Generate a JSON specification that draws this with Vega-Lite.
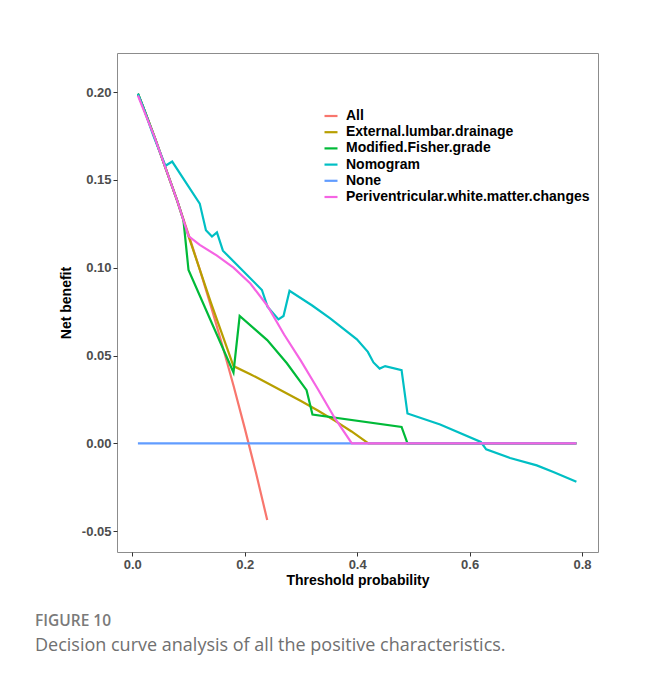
{
  "$schema": "https://vega.github.io/schema/vega-lite/v6.json",
  "width": 481,
  "height": 499,
  "autosize": "none",
  "padding": {"left": 117, "top": 53, "right": 50, "bottom": 125},
  "background": "white",
  "config": {
    "view": {"stroke": "#8c8c8c", "strokeWidth": 1},
    "font": "Liberation Sans"
  },
  "title": {
    "text": "FIGURE 10",
    "subtitle": "Decision curve analysis of all the positive characteristics.",
    "orient": "bottom",
    "anchor": "start",
    "frame": "group",
    "dx": -82,
    "offset": 27,
    "font": "Open Sans",
    "fontSize": 15.5,
    "fontWeight": 600,
    "color": "#7a7a7a",
    "subtitleFont": "Open Sans",
    "subtitleFontSize": 18,
    "subtitleFontWeight": "normal",
    "subtitleColor": "#707070",
    "subtitlePadding": 7
  },
  "data": {
    "values": [
      {"s": "All", "t": 0.01, "nb": 0.199},
      {"s": "All", "t": 0.02, "nb": 0.191},
      {"s": "All", "t": 0.04, "nb": 0.174},
      {"s": "All", "t": 0.06, "nb": 0.156},
      {"s": "All", "t": 0.08, "nb": 0.138},
      {"s": "All", "t": 0.10, "nb": 0.119},
      {"s": "All", "t": 0.12, "nb": 0.099},
      {"s": "All", "t": 0.14, "nb": 0.078},
      {"s": "All", "t": 0.16, "nb": 0.056},
      {"s": "All", "t": 0.18, "nb": 0.033},
      {"s": "All", "t": 0.20, "nb": 0.0087},
      {"s": "All", "t": 0.22, "nb": -0.0167},
      {"s": "All", "t": 0.24, "nb": -0.0436},

      {"s": "External.lumbar.drainage", "t": 0.01, "nb": 0.199},
      {"s": "External.lumbar.drainage", "t": 0.02, "nb": 0.191},
      {"s": "External.lumbar.drainage", "t": 0.04, "nb": 0.174},
      {"s": "External.lumbar.drainage", "t": 0.06, "nb": 0.156},
      {"s": "External.lumbar.drainage", "t": 0.08, "nb": 0.138},
      {"s": "External.lumbar.drainage", "t": 0.10, "nb": 0.118},
      {"s": "External.lumbar.drainage", "t": 0.14, "nb": 0.080},
      {"s": "External.lumbar.drainage", "t": 0.18, "nb": 0.044},
      {"s": "External.lumbar.drainage", "t": 0.21, "nb": 0.0394},
      {"s": "External.lumbar.drainage", "t": 0.24, "nb": 0.0344},
      {"s": "External.lumbar.drainage", "t": 0.27, "nb": 0.0293},
      {"s": "External.lumbar.drainage", "t": 0.30, "nb": 0.0241},
      {"s": "External.lumbar.drainage", "t": 0.33, "nb": 0.0187},
      {"s": "External.lumbar.drainage", "t": 0.36, "nb": 0.0130},
      {"s": "External.lumbar.drainage", "t": 0.39, "nb": 0.0068},
      {"s": "External.lumbar.drainage", "t": 0.42, "nb": 0.0},
      {"s": "External.lumbar.drainage", "t": 0.79, "nb": 0.0},

      {"s": "Modified.Fisher.grade", "t": 0.01, "nb": 0.199},
      {"s": "Modified.Fisher.grade", "t": 0.02, "nb": 0.191},
      {"s": "Modified.Fisher.grade", "t": 0.04, "nb": 0.174},
      {"s": "Modified.Fisher.grade", "t": 0.06, "nb": 0.156},
      {"s": "Modified.Fisher.grade", "t": 0.08, "nb": 0.138},
      {"s": "Modified.Fisher.grade", "t": 0.091, "nb": 0.127},
      {"s": "Modified.Fisher.grade", "t": 0.10, "nb": 0.0987},
      {"s": "Modified.Fisher.grade", "t": 0.18, "nb": 0.0404},
      {"s": "Modified.Fisher.grade", "t": 0.191, "nb": 0.0725},
      {"s": "Modified.Fisher.grade", "t": 0.24, "nb": 0.0588},
      {"s": "Modified.Fisher.grade", "t": 0.275, "nb": 0.0456},
      {"s": "Modified.Fisher.grade", "t": 0.31, "nb": 0.0303},
      {"s": "Modified.Fisher.grade", "t": 0.3205, "nb": 0.0164},
      {"s": "Modified.Fisher.grade", "t": 0.479, "nb": 0.0094},
      {"s": "Modified.Fisher.grade", "t": 0.4895, "nb": 0.0},
      {"s": "Modified.Fisher.grade", "t": 0.79, "nb": 0.0},

      {"s": "Nomogram", "t": 0.01, "nb": 0.199},
      {"s": "Nomogram", "t": 0.02, "nb": 0.191},
      {"s": "Nomogram", "t": 0.038, "nb": 0.1747},
      {"s": "Nomogram", "t": 0.059, "nb": 0.158},
      {"s": "Nomogram", "t": 0.071, "nb": 0.1604},
      {"s": "Nomogram", "t": 0.12, "nb": 0.1365},
      {"s": "Nomogram", "t": 0.131, "nb": 0.1213},
      {"s": "Nomogram", "t": 0.1417, "nb": 0.1177},
      {"s": "Nomogram", "t": 0.1506, "nb": 0.1201},
      {"s": "Nomogram", "t": 0.1612, "nb": 0.1097},
      {"s": "Nomogram", "t": 0.2306, "nb": 0.0873},
      {"s": "Nomogram", "t": 0.2405, "nb": 0.0778},
      {"s": "Nomogram", "t": 0.260, "nb": 0.0706},
      {"s": "Nomogram", "t": 0.269, "nb": 0.0725},
      {"s": "Nomogram", "t": 0.2797, "nb": 0.0869},
      {"s": "Nomogram", "t": 0.32, "nb": 0.0785},
      {"s": "Nomogram", "t": 0.352, "nb": 0.0712},
      {"s": "Nomogram", "t": 0.3995, "nb": 0.0592},
      {"s": "Nomogram", "t": 0.419, "nb": 0.0521},
      {"s": "Nomogram", "t": 0.429, "nb": 0.0461},
      {"s": "Nomogram", "t": 0.440, "nb": 0.0426},
      {"s": "Nomogram", "t": 0.4498, "nb": 0.044},
      {"s": "Nomogram", "t": 0.479, "nb": 0.0417},
      {"s": "Nomogram", "t": 0.4895, "nb": 0.017},
      {"s": "Nomogram", "t": 0.5476, "nb": 0.0108},
      {"s": "Nomogram", "t": 0.62, "nb": 0.0008},
      {"s": "Nomogram", "t": 0.6295, "nb": -0.0034},
      {"s": "Nomogram", "t": 0.672, "nb": -0.0083},
      {"s": "Nomogram", "t": 0.7195, "nb": -0.0125},
      {"s": "Nomogram", "t": 0.749, "nb": -0.0163},
      {"s": "Nomogram", "t": 0.79, "nb": -0.0218},

      {"s": "None", "t": 0.01, "nb": 0.0},
      {"s": "None", "t": 0.79, "nb": 0.0},

      {"s": "Periventricular.white.matter.changes", "t": 0.01, "nb": 0.198},
      {"s": "Periventricular.white.matter.changes", "t": 0.02, "nb": 0.190},
      {"s": "Periventricular.white.matter.changes", "t": 0.04, "nb": 0.174},
      {"s": "Periventricular.white.matter.changes", "t": 0.06, "nb": 0.156},
      {"s": "Periventricular.white.matter.changes", "t": 0.08, "nb": 0.138},
      {"s": "Periventricular.white.matter.changes", "t": 0.10, "nb": 0.118},
      {"s": "Periventricular.white.matter.changes", "t": 0.12, "nb": 0.113},
      {"s": "Periventricular.white.matter.changes", "t": 0.15, "nb": 0.107},
      {"s": "Periventricular.white.matter.changes", "t": 0.18, "nb": 0.100},
      {"s": "Periventricular.white.matter.changes", "t": 0.21, "nb": 0.091},
      {"s": "Periventricular.white.matter.changes", "t": 0.24, "nb": 0.0785},
      {"s": "Periventricular.white.matter.changes", "t": 0.27, "nb": 0.062},
      {"s": "Periventricular.white.matter.changes", "t": 0.30, "nb": 0.047},
      {"s": "Periventricular.white.matter.changes", "t": 0.33, "nb": 0.031},
      {"s": "Periventricular.white.matter.changes", "t": 0.36, "nb": 0.0145},
      {"s": "Periventricular.white.matter.changes", "t": 0.3905, "nb": 0.0},
      {"s": "Periventricular.white.matter.changes", "t": 0.79, "nb": 0.0}
    ]
  },
  "mark": {"type": "line", "strokeWidth": 2.2, "clip": true},
  "encoding": {
    "x": {
      "field": "t",
      "type": "quantitative",
      "scale": {"domain": [-0.0272, 0.8284], "nice": false, "zero": false},
      "axis": {
        "title": "Threshold probability",
        "values": [0, 0.2, 0.4, 0.6, 0.8],
        "format": ".1f",
        "grid": false,
        "domain": false,
        "tickColor": "#333333",
        "tickSize": 4,
        "labelPadding": 2,
        "labelFont": "Liberation Sans",
        "labelFontSize": 13,
        "labelFontWeight": "bold",
        "labelColor": "#4d4d4d",
        "titleFont": "Liberation Sans",
        "titleFontSize": 14,
        "titleFontWeight": "bold",
        "titleColor": "#000000",
        "titlePadding": 2
      }
    },
    "y": {
      "field": "nb",
      "type": "quantitative",
      "scale": {"domain": [-0.0618, 0.2222], "nice": false, "zero": false},
      "axis": {
        "title": "Net benefit",
        "values": [-0.05, 0, 0.05, 0.1, 0.15, 0.2],
        "labelExpr": "replace(format(datum.value, '.2f'), '\u2212', '-')",
        "grid": false,
        "domain": false,
        "tickColor": "#333333",
        "tickSize": 4,
        "labelPadding": 2,
        "labelFont": "Liberation Sans",
        "labelFontSize": 13,
        "labelFontWeight": "bold",
        "labelColor": "#4d4d4d",
        "titleFont": "Liberation Sans",
        "titleFontSize": 14,
        "titleFontWeight": "bold",
        "titleColor": "#000000",
        "titlePadding": 8
      }
    },
    "color": {
      "field": "s",
      "type": "nominal",
      "scale": {
        "domain": ["All", "External.lumbar.drainage", "Modified.Fisher.grade", "Nomogram", "None", "Periventricular.white.matter.changes"],
        "range": ["#F8766D", "#B79F00", "#00BA38", "#00BFC4", "#619CFF", "#F564E3"]
      },
      "legend": {
        "title": null,
        "orient": "none",
        "legendX": 206,
        "legendY": 55,
        "symbolType": "stroke",
        "symbolSize": 169,
        "symbolStrokeWidth": 2.2,
        "labelFont": "Liberation Sans",
        "labelFontSize": 14,
        "labelFontWeight": "bold",
        "labelColor": "#000000",
        "labelOffset": 7,
        "labelLimit": 0,
        "rowPadding": 1.2
      }
    }
  }
}
